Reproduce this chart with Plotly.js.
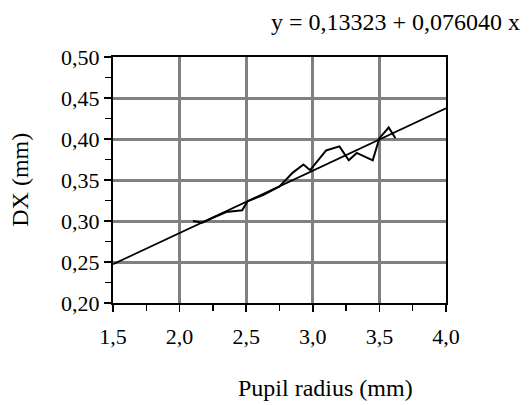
<!DOCTYPE html>
<html>
<head>
<meta charset="utf-8">
<script src="https://cdn.plot.ly/plotly-3.0.1.min.js"></script>
<style>html,body{margin:0;padding:0;background:#fff;}#chart{width:531px;height:405px;}</style>
</head>
<body>
<div id="chart"></div>
<script>
// Measured data (pupil radius in mm, DX in mm)
const radius = [2.10, 2.17, 2.25, 2.35, 2.47, 2.51, 2.63, 2.75, 2.85, 2.93, 2.98, 3.10, 3.20, 3.27, 3.33, 3.45, 3.50, 3.57, 3.62];
const dx     = [0.300, 0.298, 0.304, 0.311, 0.313, 0.324, 0.332, 0.342, 0.359, 0.369, 0.362, 0.386, 0.391, 0.374, 0.383, 0.374, 0.401, 0.414, 0.401];
// Regression line endpoints
const fitX = [1.5, 4.0];
const fitY = [0.2473, 0.4374];
const xTickVals = [1.5, 2.0, 2.5, 3.0, 3.5, 4.0];
const xTickText = ["1,5", "2,0", "2,5", "3,0", "3,5", "4,0"];
const yTickVals = [0.20, 0.25, 0.30, 0.35, 0.40, 0.45, 0.50];
const yTickText = ["0,20", "0,25", "0,30", "0,35", "0,40", "0,45", "0,50"];
const equation = "y = 0,13323 + 0,076040 x";
const xTitle = "Pupil radius (mm)";
const yTitle = "DX (mm)";

const font = {family: "'Liberation Serif', 'Times New Roman', serif", color: "#000"};

const traces = [
  {x: fitX, y: fitY, mode: "lines", line: {color: "#000", width: 1.7}, hoverinfo: "skip", showlegend: false},
  {x: radius, y: dx, mode: "lines", line: {color: "#000", width: 2}, showlegend: false}
];

const axisCommon = {
  showline: true, linecolor: "#000", linewidth: 2, mirror: true,
  showgrid: true, gridcolor: "#808080", gridwidth: 3,
  zeroline: false, ticks: "outside", ticklen: 7, tickwidth: 1.5, tickcolor: "#000",
  tickfont: Object.assign({size: 22}, font), fixedrange: true
};

const layout = {
  width: 531, height: 405,
  margin: {l: 112.5, r: 84.5, t: 57, b: 102},
  paper_bgcolor: "#fff", plot_bgcolor: "#fff",
  font: font,
  xaxis: Object.assign({}, axisCommon, {
    range: [1.5, 4.0], tickvals: xTickVals, ticktext: xTickText, ticklabelstandoff: 6,
    minor: {dtick: 0.25, tick0: 1.5, ticks: "outside", ticklen: 6, tickwidth: 1.5, tickcolor: "#000", showgrid: false}
  }),
  yaxis: Object.assign({}, axisCommon, {
    range: [0.20, 0.50], tickvals: yTickVals, ticktext: yTickText,
    minor: {dtick: 0.025, tick0: 0.2, ticks: "outside", ticklen: 6, tickwidth: 1.5, tickcolor: "#000", showgrid: false}
  }),
  annotations: [
    {text: equation, xref: "paper", yref: "paper", x: 1.228, y: 1.142, xanchor: "right", yanchor: "middle",
     showarrow: false, font: Object.assign({size: 24}, font)},
    {text: xTitle, xref: "paper", yref: "paper", x: 0.639, y: -0.345, xanchor: "center", yanchor: "middle",
     showarrow: false, font: Object.assign({size: 24}, font)},
    {text: yTitle, xref: "paper", yref: "paper", x: -0.28, y: 0.5, xanchor: "center", yanchor: "middle",
     textangle: -90, showarrow: false, font: Object.assign({size: 24}, font)}
  ]
};

Plotly.newPlot("chart", traces, layout, {displayModeBar: false, staticPlot: true});
</script>
</body>
</html>
